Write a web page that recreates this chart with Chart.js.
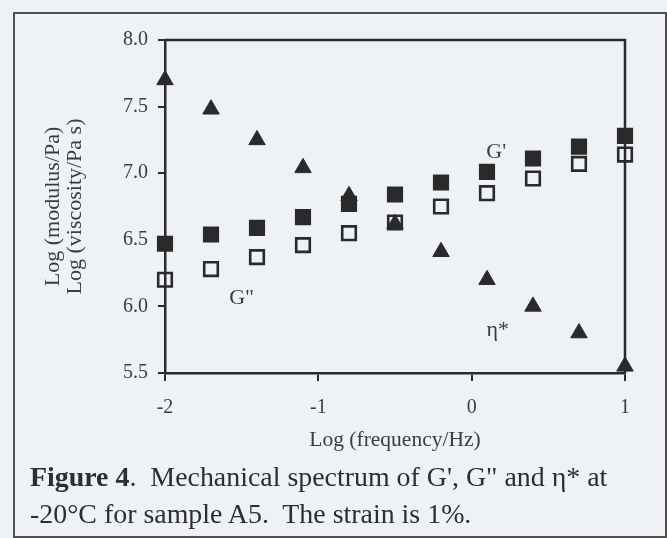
<!DOCTYPE html>
<html>
<head>
<meta charset="utf-8">
<script src="https://cdn.jsdelivr.net/npm/chart.js@4.4.1/dist/chart.umd.min.js"></script>
<style>
  html, body { margin: 0; padding: 0; background: #eef1f6; }
  #wrap { position: relative; width: 667px; height: 538px; overflow: hidden; background: #eef1f6; }
  #frame { position: absolute; left: 13px; top: 12px; width: 650px; height: 522px; border: 2px solid #505050; }
  #c { position: absolute; left: 0; top: 0; }
  #caption { position: absolute; left: 30px; top: 459px; font-family: "Liberation Serif", "Times New Roman", serif;
             font-size: 27.9px; line-height: 36.5px; color: #2e2e2e; white-space: nowrap; }
</style>
</head>
<body>
<div id="wrap">
  <div id="frame"></div>
  <canvas id="c" width="667" height="538"></canvas>
  <div id="caption">
    <div><b>Figure 4</b>.&nbsp; Mechanical spectrum of G', G" and η* at</div>
    <div>-20°C for sample A5.&nbsp; The strain is 1%.</div>
  </div>
</div>
<script>
// ---- data ----
const logFreq = [-2, -1.7, -1.4, -1.1, -0.8, -0.5, -0.2, 0.1, 0.4, 0.7, 1.0];
const gPrime  = [6.47, 6.54, 6.59, 6.67, 6.77, 6.84, 6.93, 7.01, 7.11, 7.20, 7.28];
const gDouble = [6.20, 6.28, 6.37, 6.46, 6.55, 6.63, 6.75, 6.85, 6.96, 7.07, 7.14];
const etaStar = [7.70, 7.48, 7.25, 7.04, 6.83, 6.62, 6.41, 6.20, 6.00, 5.80, 5.55];
const xTicks = [-2, -1, 0, 1];
const yTicks = [5.5, 6.0, 6.5, 7.0, 7.5, 8.0];
const labelTexts = ["G'", 'G"', "η*"];
const labelX = [0.16, -1.50, 0.17];
const labelY = [7.16, 6.06, 5.82];

const serif = '"Liberation Serif", "Times New Roman", serif';
const ink = '#2a2a2a';
const textInk = '#3c3c3c';

const pts = (ys) => logFreq.map((x, i) => ({ x: x, y: ys[i] }));

const frameAndLabels = {
  id: 'frameAndLabels',
  beforeDatasetsDraw(chart) {
    const { ctx, chartArea: a } = chart;
    ctx.save();
    ctx.strokeStyle = ink;
    ctx.lineWidth = 2.5;
    ctx.beginPath();
    ctx.moveTo(a.left, a.top);
    ctx.lineTo(a.right, a.top);
    ctx.lineTo(a.right, a.bottom);
    ctx.stroke();
    ctx.restore();
  },
  afterDatasetsDraw(chart) {
    const { ctx, scales } = chart;
    ctx.save();
    ctx.fillStyle = textInk;
    ctx.font = '22px ' + serif;
    ctx.textAlign = 'center';
    ctx.textBaseline = 'middle';
    labelTexts.forEach((t, i) => {
      ctx.fillText(t, scales.x.getPixelForValue(labelX[i]), scales.y.getPixelForValue(labelY[i]));
    });
    ctx.restore();
  }
};

new Chart(document.getElementById('c'), {
  type: 'scatter',
  data: {
    datasets: [
      { label: "G'", data: pts(gPrime), pointStyle: 'rect', pointRadius: 10, pointHoverRadius: 10,
        backgroundColor: ink, borderColor: ink, borderWidth: 2, clip: false },
      { label: 'G"', data: pts(gDouble), pointStyle: 'rect', pointRadius: 9.6, pointHoverRadius: 9.6,
        backgroundColor: 'rgba(0,0,0,0)', borderColor: ink, borderWidth: 2.6, clip: false },
      { label: 'η*', data: pts(etaStar), pointStyle: 'triangle', pointRadius: 9.5, pointHoverRadius: 9.5,
        backgroundColor: ink, borderColor: ink, borderWidth: 1, clip: false }
    ]
  },
  options: {
    responsive: false,
    animation: false,
    events: [],
    layout: { padding: { left: 0, right: 42, top: 40, bottom: 85 } },
    plugins: { legend: { display: false }, tooltip: { enabled: false } },
    scales: {
      x: {
        type: 'linear', min: -2, max: 1,
        afterFit: (s) => { s.height = 80; },
        afterBuildTicks: (s) => { s.ticks = xTicks.map(v => ({ value: v })); },
        grid: { drawOnChartArea: false, drawTicks: true, tickLength: 8, color: ink, lineWidth: 2 },
        border: { display: true, color: ink, width: 2.5 },
        ticks: { color: textInk, font: { family: serif, size: 20 }, padding: 15, maxRotation: 0,
                 callback: (v) => String(v) },
        title: { display: true, text: 'Log (frequency/Hz)', color: textInk,
                 font: { family: serif, size: 21.5, lineHeight: 1.1 }, padding: { top: 0, bottom: 1 } }
      },
      y: {
        type: 'linear', min: 5.5, max: 8.0,
        afterFit: (s) => { s.width = 165; },
        afterBuildTicks: (s) => { s.ticks = yTicks.map(v => ({ value: v })); },
        grid: { drawOnChartArea: false, drawTicks: true, tickLength: 7, color: ink, lineWidth: 2 },
        border: { display: true, color: ink, width: 2.5 },
        ticks: { color: textInk, font: { family: serif, size: 20 }, padding: 10,
                 callback: (v) => Number(v).toFixed(1) },
        title: { display: true, text: ['Log (modulus/Pa)', 'Log (viscosity/Pa s)'], color: textInk,
                 font: { family: serif, size: 22, lineHeight: 1.0 }, padding: { top: 42, bottom: 0 } }
      }
    }
  },
  plugins: [frameAndLabels]
});
</script>
</body>
</html>
